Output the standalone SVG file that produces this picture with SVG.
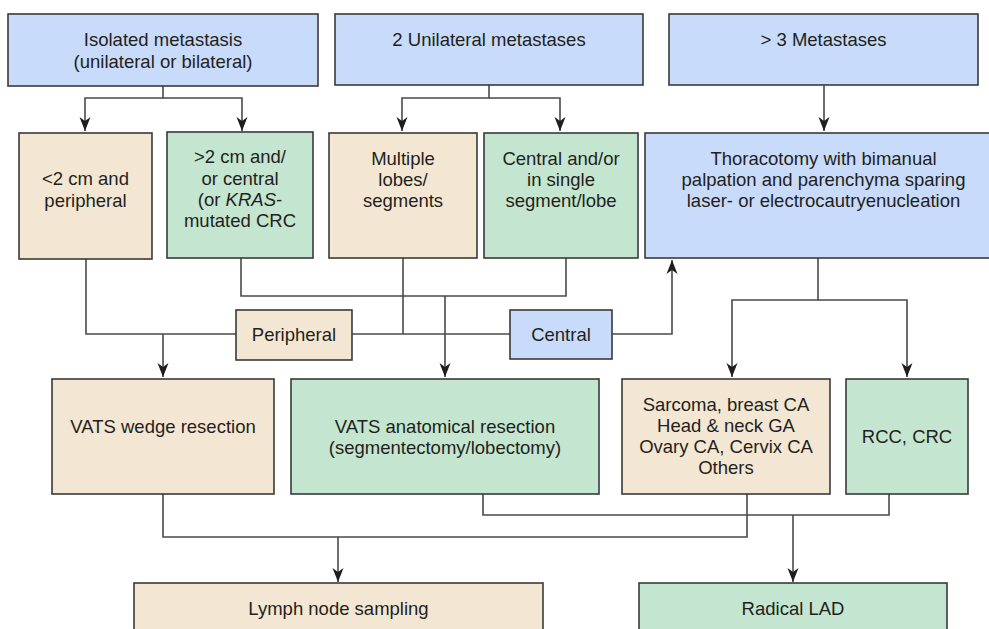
<svg xmlns="http://www.w3.org/2000/svg" width="989" height="629" viewBox="0 0 989 629">
<defs>
<marker id="arr" viewBox="-15 -6 16 12" markerWidth="16" markerHeight="12" refX="0" refY="0" orient="auto" markerUnits="userSpaceOnUse">
<path d="M0,0 L-14,-5.5 L-10,0 L-14,5.5 Z" fill="#1e1e1e"/>
</marker>
</defs>
<style>
.box{stroke:#3a3a3a;stroke-width:1.6}
.blue{fill:#c8dbfa}
.beige{fill:#f3e7d3}
.green{fill:#c4e5cf}
text{font-family:"Liberation Sans",Arial,Helvetica,sans-serif;font-size:18.5px;fill:#231f20;text-anchor:middle}
.c{fill:none;stroke:#4a4a4a;stroke-width:1.6}
.a{marker-end:url(#arr)}
</style>
<rect width="989" height="629" fill="#ffffff"/>
<g id="connectors">
<path class="c a" d="M163,86 V98 H85 V131"/>
<path class="c a" d="M163,98 H242 V131"/>
<path class="c a" d="M489,85 V98 H402 V131"/>
<path class="c a" d="M489,98 H560 V131"/>
<path class="c a" d="M824,85 V131"/>
<path class="c" d="M86,259 V334 H236"/>
<path class="c a" d="M163,334 V377"/>
<path class="c" d="M352,334 H510"/>
<path class="c" d="M403,258 V334"/>
<path class="c" d="M241,258 V296 H566 V258"/>
<path class="c a" d="M445,296 V377"/>
<path class="c a" d="M612,334 H672 V260"/>
<path class="c a" d="M818,258 V300 H732 V377"/>
<path class="c a" d="M818,300 H907 V377"/>
<path class="c" d="M163,494 V537 H747 V494"/>
<path class="c a" d="M338,537 V582"/>
<path class="c" d="M483,494 V515 H889 V494"/>
<path class="c a" d="M793,515 V582"/>
</g>
<g id="n-isolated">
<rect class="box blue" x="8" y="14" width="310" height="72"/>
<text x="163" y="46">Isolated metastasis</text>
<text x="163" y="68">(unilateral or bilateral)</text>
</g>
<g id="n-two">
<rect class="box blue" x="335" y="14" width="308" height="71"/>
<text x="489" y="46">2 Unilateral metastases</text>
</g>
<g id="n-three">
<rect class="box blue" x="669" y="14" width="309" height="71"/>
<text x="823.5" y="46">&gt; 3 Metastases</text>
</g>
<g id="n-small">
<rect class="box beige" x="19" y="133" width="133" height="126"/>
<text x="85.5" y="185">&lt;2 cm and</text>
<text x="85.5" y="207">peripheral</text>
</g>
<g id="n-large">
<rect class="box green" x="167" y="132" width="146" height="126"/>
<text x="240" y="163">&gt;2 cm and/</text>
<text x="240" y="185">or central</text>
<text x="240" y="206">(or <tspan font-style="italic">KRAS</tspan>-</text>
<text x="240" y="227">mutated CRC</text>
</g>
<g id="n-multiple">
<rect class="box beige" x="329" y="133" width="148" height="125"/>
<text x="403" y="165">Multiple</text>
<text x="403" y="186">lobes/</text>
<text x="403" y="207">segments</text>
</g>
<g id="n-centralsingle">
<rect class="box green" x="484" y="133" width="154" height="125"/>
<text x="561" y="165">Central and/or</text>
<text x="561" y="186">in single</text>
<text x="561" y="207">segment/lobe</text>
</g>
<g id="n-thoracotomy">
<rect class="box blue" x="645" y="133" width="357" height="125"/>
<text x="823.5" y="165">Thoracotomy with bimanual</text>
<text x="823.5" y="186">palpation and parenchyma sparing</text>
<text x="823.5" y="207">laser- or electrocautryenucleation</text>
</g>
<g id="n-peripheral">
<rect class="box beige" x="236" y="310" width="116" height="50"/>
<text x="294" y="341">Peripheral</text>
</g>
<g id="n-central">
<rect class="box blue" x="510" y="310" width="102" height="49"/>
<text x="561" y="341">Central</text>
</g>
<g id="n-wedge">
<rect class="box beige" x="52" y="379" width="222" height="115"/>
<text x="163" y="433">VATS wedge resection</text>
</g>
<g id="n-anatomical">
<rect class="box green" x="291" y="379" width="308" height="115"/>
<text x="445" y="433">VATS anatomical resection</text>
<text x="445" y="454">(segmentectomy/lobectomy)</text>
</g>
<g id="n-sarcoma">
<rect class="box beige" x="622" y="379" width="208" height="115"/>
<text x="726" y="411">Sarcoma, breast CA</text>
<text x="726" y="432">Head &amp; neck GA</text>
<text x="726" y="453">Ovary CA, Cervix CA</text>
<text x="726" y="474">Others</text>
</g>
<g id="n-rcc">
<rect class="box green" x="846" y="379" width="122" height="115"/>
<text x="907" y="443">RCC, CRC</text>
</g>
<g id="n-lymph">
<rect class="box beige" x="134" y="583" width="409" height="60"/>
<text x="338.5" y="615">Lymph node sampling</text>
</g>
<g id="n-radical">
<rect class="box green" x="639" y="583" width="308" height="60"/>
<text x="793" y="615">Radical LAD</text>
</g>
</svg>
